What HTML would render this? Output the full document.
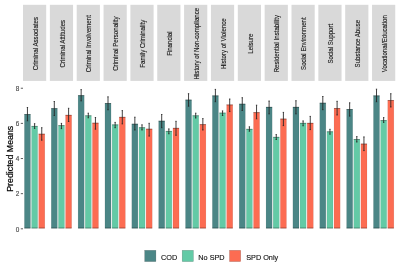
<!DOCTYPE html><html><head><meta charset="utf-8"><style>html,body{margin:0;padding:0;background:#fff;width:400px;height:264px;overflow:hidden}svg{display:block;filter:blur(0.3px)}text{font-family:"Liberation Sans",sans-serif}</style></head><body>
<svg width="400" height="264" viewBox="0 0 400 264">
<rect x="0" y="0" width="400" height="264" fill="#fff"/>
<rect x="23.00" y="4.8" width="23.2" height="76.10" fill="#D9D9D9"/>
<text x="0" y="0" transform="translate(37.70,43.65) scale(1,0.955) rotate(-90)" text-anchor="middle" font-size="6.4" fill="#1A1A1A" stroke="#1A1A1A" stroke-width="0.12">Criminal Associates</text>
<rect x="24.40" y="114.20" width="6.10" height="114.10" fill="#4B8686" stroke="rgba(0,0,0,0.12)" stroke-width="0.5"/>
<path d="M24.40 114.50h6.10M24.40 227.95h6.10" stroke="rgba(0,0,0,0.42)" stroke-width="0.7"/>
<rect x="31.55" y="126.10" width="6.10" height="102.20" fill="#63CAA6" stroke="rgba(0,0,0,0.12)" stroke-width="0.5"/>
<path d="M31.55 126.40h6.10M31.55 227.95h6.10" stroke="rgba(0,0,0,0.42)" stroke-width="0.7"/>
<rect x="38.70" y="133.90" width="6.10" height="94.40" fill="#FC6C52" stroke="rgba(0,0,0,0.12)" stroke-width="0.5"/>
<path d="M38.70 134.20h6.10M38.70 227.95h6.10" stroke="rgba(0,0,0,0.42)" stroke-width="0.7"/>
<path d="M27.45 107.50V120.80M26.80 107.50H28.10M26.80 120.80H28.10" stroke="#222" stroke-width="0.85" fill="none"/>
<path d="M34.60 123.70V128.40M33.95 123.70H35.25M33.95 128.40H35.25" stroke="#222" stroke-width="0.85" fill="none"/>
<path d="M41.75 127.70V140.20M41.10 127.70H42.40M41.10 140.20H42.40" stroke="#222" stroke-width="0.85" fill="none"/>
<rect x="49.85" y="4.8" width="23.2" height="76.10" fill="#D9D9D9"/>
<text x="0" y="0" transform="translate(64.55,43.65) scale(1,0.955) rotate(-90)" text-anchor="middle" font-size="6.4" fill="#1A1A1A" stroke="#1A1A1A" stroke-width="0.12">Criminal Attitudes</text>
<rect x="51.25" y="108.30" width="6.10" height="120.00" fill="#4B8686" stroke="rgba(0,0,0,0.12)" stroke-width="0.5"/>
<path d="M51.25 108.60h6.10M51.25 227.95h6.10" stroke="rgba(0,0,0,0.42)" stroke-width="0.7"/>
<rect x="58.40" y="125.30" width="6.10" height="103.00" fill="#63CAA6" stroke="rgba(0,0,0,0.12)" stroke-width="0.5"/>
<path d="M58.40 125.60h6.10M58.40 227.95h6.10" stroke="rgba(0,0,0,0.42)" stroke-width="0.7"/>
<rect x="65.55" y="115.00" width="6.10" height="113.30" fill="#FC6C52" stroke="rgba(0,0,0,0.12)" stroke-width="0.5"/>
<path d="M65.55 115.30h6.10M65.55 227.95h6.10" stroke="rgba(0,0,0,0.42)" stroke-width="0.7"/>
<path d="M54.30 101.50V115.50M53.65 101.50H54.95M53.65 115.50H54.95" stroke="#222" stroke-width="0.85" fill="none"/>
<path d="M61.45 123.40V128.60M60.80 123.40H62.10M60.80 128.60H62.10" stroke="#222" stroke-width="0.85" fill="none"/>
<path d="M68.60 108.30V121.50M67.95 108.30H69.25M67.95 121.50H69.25" stroke="#222" stroke-width="0.85" fill="none"/>
<rect x="76.70" y="4.8" width="23.2" height="76.10" fill="#D9D9D9"/>
<text x="0" y="0" transform="translate(91.40,43.65) scale(1,0.955) rotate(-90)" text-anchor="middle" font-size="6.4" fill="#1A1A1A" stroke="#1A1A1A" stroke-width="0.12">Criminal Involvement</text>
<rect x="78.10" y="95.30" width="6.10" height="133.00" fill="#4B8686" stroke="rgba(0,0,0,0.12)" stroke-width="0.5"/>
<path d="M78.10 95.60h6.10M78.10 227.95h6.10" stroke="rgba(0,0,0,0.42)" stroke-width="0.7"/>
<rect x="85.25" y="115.50" width="6.10" height="112.80" fill="#63CAA6" stroke="rgba(0,0,0,0.12)" stroke-width="0.5"/>
<path d="M85.25 115.80h6.10M85.25 227.95h6.10" stroke="rgba(0,0,0,0.42)" stroke-width="0.7"/>
<rect x="92.40" y="122.90" width="6.10" height="105.40" fill="#FC6C52" stroke="rgba(0,0,0,0.12)" stroke-width="0.5"/>
<path d="M92.40 123.20h6.10M92.40 227.95h6.10" stroke="rgba(0,0,0,0.42)" stroke-width="0.7"/>
<path d="M81.15 89.60V100.90M80.50 89.60H81.80M80.50 100.90H81.80" stroke="#222" stroke-width="0.85" fill="none"/>
<path d="M88.30 113.20V117.80M87.65 113.20H88.95M87.65 117.80H88.95" stroke="#222" stroke-width="0.85" fill="none"/>
<path d="M95.45 117.50V129.20M94.80 117.50H96.10M94.80 129.20H96.10" stroke="#222" stroke-width="0.85" fill="none"/>
<rect x="103.55" y="4.8" width="23.2" height="76.10" fill="#D9D9D9"/>
<text x="0" y="0" transform="translate(118.25,43.65) scale(1,0.955) rotate(-90)" text-anchor="middle" font-size="6.4" fill="#1A1A1A" stroke="#1A1A1A" stroke-width="0.12">Criminal Personality</text>
<rect x="104.95" y="103.20" width="6.10" height="125.10" fill="#4B8686" stroke="rgba(0,0,0,0.12)" stroke-width="0.5"/>
<path d="M104.95 103.50h6.10M104.95 227.95h6.10" stroke="rgba(0,0,0,0.42)" stroke-width="0.7"/>
<rect x="112.10" y="124.60" width="6.10" height="103.70" fill="#63CAA6" stroke="rgba(0,0,0,0.12)" stroke-width="0.5"/>
<path d="M112.10 124.90h6.10M112.10 227.95h6.10" stroke="rgba(0,0,0,0.42)" stroke-width="0.7"/>
<rect x="119.25" y="117.00" width="6.10" height="111.30" fill="#FC6C52" stroke="rgba(0,0,0,0.12)" stroke-width="0.5"/>
<path d="M119.25 117.30h6.10M119.25 227.95h6.10" stroke="rgba(0,0,0,0.42)" stroke-width="0.7"/>
<path d="M108.00 96.80V109.80M107.35 96.80H108.65M107.35 109.80H108.65" stroke="#222" stroke-width="0.85" fill="none"/>
<path d="M115.15 122.40V127.70M114.50 122.40H115.80M114.50 127.70H115.80" stroke="#222" stroke-width="0.85" fill="none"/>
<path d="M122.30 110.60V123.90M121.65 110.60H122.95M121.65 123.90H122.95" stroke="#222" stroke-width="0.85" fill="none"/>
<rect x="130.40" y="4.8" width="23.2" height="76.10" fill="#D9D9D9"/>
<text x="0" y="0" transform="translate(145.10,43.65) scale(1,0.955) rotate(-90)" text-anchor="middle" font-size="6.4" fill="#1A1A1A" stroke="#1A1A1A" stroke-width="0.12">Family Criminality</text>
<rect x="131.80" y="123.90" width="6.10" height="104.40" fill="#4B8686" stroke="rgba(0,0,0,0.12)" stroke-width="0.5"/>
<path d="M131.80 124.20h6.10M131.80 227.95h6.10" stroke="rgba(0,0,0,0.42)" stroke-width="0.7"/>
<rect x="138.95" y="127.40" width="6.10" height="100.90" fill="#63CAA6" stroke="rgba(0,0,0,0.12)" stroke-width="0.5"/>
<path d="M138.95 127.70h6.10M138.95 227.95h6.10" stroke="rgba(0,0,0,0.42)" stroke-width="0.7"/>
<rect x="146.10" y="128.90" width="6.10" height="99.40" fill="#FC6C52" stroke="rgba(0,0,0,0.12)" stroke-width="0.5"/>
<path d="M146.10 129.20h6.10M146.10 227.95h6.10" stroke="rgba(0,0,0,0.42)" stroke-width="0.7"/>
<path d="M134.85 117.20V130.00M134.20 117.20H135.50M134.20 130.00H135.50" stroke="#222" stroke-width="0.85" fill="none"/>
<path d="M142.00 124.80V130.00M141.35 124.80H142.65M141.35 130.00H142.65" stroke="#222" stroke-width="0.85" fill="none"/>
<path d="M149.15 123.30V136.10M148.50 123.30H149.80M148.50 136.10H149.80" stroke="#222" stroke-width="0.85" fill="none"/>
<rect x="157.25" y="4.8" width="23.2" height="76.10" fill="#D9D9D9"/>
<text x="0" y="0" transform="translate(171.95,43.65) scale(1,0.955) rotate(-90)" text-anchor="middle" font-size="6.4" fill="#1A1A1A" stroke="#1A1A1A" stroke-width="0.12">Financial</text>
<rect x="158.65" y="120.90" width="6.10" height="107.40" fill="#4B8686" stroke="rgba(0,0,0,0.12)" stroke-width="0.5"/>
<path d="M158.65 121.20h6.10M158.65 227.95h6.10" stroke="rgba(0,0,0,0.42)" stroke-width="0.7"/>
<rect x="165.80" y="131.10" width="6.10" height="97.20" fill="#63CAA6" stroke="rgba(0,0,0,0.12)" stroke-width="0.5"/>
<path d="M165.80 131.40h6.10M165.80 227.95h6.10" stroke="rgba(0,0,0,0.42)" stroke-width="0.7"/>
<rect x="172.95" y="128.00" width="6.10" height="100.30" fill="#FC6C52" stroke="rgba(0,0,0,0.12)" stroke-width="0.5"/>
<path d="M172.95 128.30h6.10M172.95 227.95h6.10" stroke="rgba(0,0,0,0.42)" stroke-width="0.7"/>
<path d="M161.70 114.50V127.70M161.05 114.50H162.35M161.05 127.70H162.35" stroke="#222" stroke-width="0.85" fill="none"/>
<path d="M168.85 128.90V133.80M168.20 128.90H169.50M168.20 133.80H169.50" stroke="#222" stroke-width="0.85" fill="none"/>
<path d="M176.00 121.30V135.30M175.35 121.30H176.65M175.35 135.30H176.65" stroke="#222" stroke-width="0.85" fill="none"/>
<rect x="184.10" y="4.8" width="23.2" height="76.10" fill="#D9D9D9"/>
<text x="0" y="0" transform="translate(198.80,43.65) scale(1,0.955) rotate(-90)" text-anchor="middle" font-size="6.4" fill="#1A1A1A" stroke="#1A1A1A" stroke-width="0.12">History of Non-compliance</text>
<rect x="185.50" y="99.80" width="6.10" height="128.50" fill="#4B8686" stroke="rgba(0,0,0,0.12)" stroke-width="0.5"/>
<path d="M185.50 100.10h6.10M185.50 227.95h6.10" stroke="rgba(0,0,0,0.42)" stroke-width="0.7"/>
<rect x="192.65" y="115.50" width="6.10" height="112.80" fill="#63CAA6" stroke="rgba(0,0,0,0.12)" stroke-width="0.5"/>
<path d="M192.65 115.80h6.10M192.65 227.95h6.10" stroke="rgba(0,0,0,0.42)" stroke-width="0.7"/>
<rect x="199.80" y="124.30" width="6.10" height="104.00" fill="#FC6C52" stroke="rgba(0,0,0,0.12)" stroke-width="0.5"/>
<path d="M199.80 124.60h6.10M199.80 227.95h6.10" stroke="rgba(0,0,0,0.42)" stroke-width="0.7"/>
<path d="M188.55 93.70V106.20M187.90 93.70H189.20M187.90 106.20H189.20" stroke="#222" stroke-width="0.85" fill="none"/>
<path d="M195.70 113.20V118.00M195.05 113.20H196.35M195.05 118.00H196.35" stroke="#222" stroke-width="0.85" fill="none"/>
<path d="M202.85 118.60V130.00M202.20 118.60H203.50M202.20 130.00H203.50" stroke="#222" stroke-width="0.85" fill="none"/>
<rect x="210.95" y="4.8" width="23.2" height="76.10" fill="#D9D9D9"/>
<text x="0" y="0" transform="translate(225.65,43.65) scale(1,0.955) rotate(-90)" text-anchor="middle" font-size="6.4" fill="#1A1A1A" stroke="#1A1A1A" stroke-width="0.12">History of Violence</text>
<rect x="212.35" y="95.60" width="6.10" height="132.70" fill="#4B8686" stroke="rgba(0,0,0,0.12)" stroke-width="0.5"/>
<path d="M212.35 95.90h6.10M212.35 227.95h6.10" stroke="rgba(0,0,0,0.42)" stroke-width="0.7"/>
<rect x="219.50" y="112.80" width="6.10" height="115.50" fill="#63CAA6" stroke="rgba(0,0,0,0.12)" stroke-width="0.5"/>
<path d="M219.50 113.10h6.10M219.50 227.95h6.10" stroke="rgba(0,0,0,0.42)" stroke-width="0.7"/>
<rect x="226.65" y="104.70" width="6.10" height="123.60" fill="#FC6C52" stroke="rgba(0,0,0,0.12)" stroke-width="0.5"/>
<path d="M226.65 105.00h6.10M226.65 227.95h6.10" stroke="rgba(0,0,0,0.42)" stroke-width="0.7"/>
<path d="M215.40 89.40V101.70M214.75 89.40H216.05M214.75 101.70H216.05" stroke="#222" stroke-width="0.85" fill="none"/>
<path d="M222.55 110.90V115.50M221.90 110.90H223.20M221.90 115.50H223.20" stroke="#222" stroke-width="0.85" fill="none"/>
<path d="M229.70 99.00V111.60M229.05 99.00H230.35M229.05 111.60H230.35" stroke="#222" stroke-width="0.85" fill="none"/>
<rect x="237.80" y="4.8" width="23.2" height="76.10" fill="#D9D9D9"/>
<text x="0" y="0" transform="translate(252.50,43.65) scale(1,0.955) rotate(-90)" text-anchor="middle" font-size="6.4" fill="#1A1A1A" stroke="#1A1A1A" stroke-width="0.12">Leisure</text>
<rect x="239.20" y="103.90" width="6.10" height="124.40" fill="#4B8686" stroke="rgba(0,0,0,0.12)" stroke-width="0.5"/>
<path d="M239.20 104.20h6.10M239.20 227.95h6.10" stroke="rgba(0,0,0,0.42)" stroke-width="0.7"/>
<rect x="246.35" y="129.00" width="6.10" height="99.30" fill="#63CAA6" stroke="rgba(0,0,0,0.12)" stroke-width="0.5"/>
<path d="M246.35 129.30h6.10M246.35 227.95h6.10" stroke="rgba(0,0,0,0.42)" stroke-width="0.7"/>
<rect x="253.50" y="112.30" width="6.10" height="116.00" fill="#FC6C52" stroke="rgba(0,0,0,0.12)" stroke-width="0.5"/>
<path d="M253.50 112.60h6.10M253.50 227.95h6.10" stroke="rgba(0,0,0,0.42)" stroke-width="0.7"/>
<path d="M242.25 97.70V110.50M241.60 97.70H242.90M241.60 110.50H242.90" stroke="#222" stroke-width="0.85" fill="none"/>
<path d="M249.40 126.80V131.20M248.75 126.80H250.05M248.75 131.20H250.05" stroke="#222" stroke-width="0.85" fill="none"/>
<path d="M256.55 105.20V118.80M255.90 105.20H257.20M255.90 118.80H257.20" stroke="#222" stroke-width="0.85" fill="none"/>
<rect x="264.65" y="4.8" width="23.2" height="76.10" fill="#D9D9D9"/>
<text x="0" y="0" transform="translate(279.35,43.65) scale(1,0.955) rotate(-90)" text-anchor="middle" font-size="6.4" fill="#1A1A1A" stroke="#1A1A1A" stroke-width="0.12">Residential Instability</text>
<rect x="266.05" y="107.00" width="6.10" height="121.30" fill="#4B8686" stroke="rgba(0,0,0,0.12)" stroke-width="0.5"/>
<path d="M266.05 107.30h6.10M266.05 227.95h6.10" stroke="rgba(0,0,0,0.42)" stroke-width="0.7"/>
<rect x="273.20" y="137.00" width="6.10" height="91.30" fill="#63CAA6" stroke="rgba(0,0,0,0.12)" stroke-width="0.5"/>
<path d="M273.20 137.30h6.10M273.20 227.95h6.10" stroke="rgba(0,0,0,0.42)" stroke-width="0.7"/>
<rect x="280.35" y="118.80" width="6.10" height="109.50" fill="#FC6C52" stroke="rgba(0,0,0,0.12)" stroke-width="0.5"/>
<path d="M280.35 119.10h6.10M280.35 227.95h6.10" stroke="rgba(0,0,0,0.42)" stroke-width="0.7"/>
<path d="M269.10 101.00V113.90M268.45 101.00H269.75M268.45 113.90H269.75" stroke="#222" stroke-width="0.85" fill="none"/>
<path d="M276.25 134.60V139.50M275.60 134.60H276.90M275.60 139.50H276.90" stroke="#222" stroke-width="0.85" fill="none"/>
<path d="M283.40 112.40V125.60M282.75 112.40H284.05M282.75 125.60H284.05" stroke="#222" stroke-width="0.85" fill="none"/>
<rect x="291.50" y="4.8" width="23.2" height="76.10" fill="#D9D9D9"/>
<text x="0" y="0" transform="translate(306.20,43.65) scale(1,0.955) rotate(-90)" text-anchor="middle" font-size="6.4" fill="#1A1A1A" stroke="#1A1A1A" stroke-width="0.12">Social Environment</text>
<rect x="292.90" y="107.00" width="6.10" height="121.30" fill="#4B8686" stroke="rgba(0,0,0,0.12)" stroke-width="0.5"/>
<path d="M292.90 107.30h6.10M292.90 227.95h6.10" stroke="rgba(0,0,0,0.42)" stroke-width="0.7"/>
<rect x="300.05" y="123.00" width="6.10" height="105.30" fill="#63CAA6" stroke="rgba(0,0,0,0.12)" stroke-width="0.5"/>
<path d="M300.05 123.30h6.10M300.05 227.95h6.10" stroke="rgba(0,0,0,0.42)" stroke-width="0.7"/>
<rect x="307.20" y="123.00" width="6.10" height="105.30" fill="#FC6C52" stroke="rgba(0,0,0,0.12)" stroke-width="0.5"/>
<path d="M307.20 123.30h6.10M307.20 227.95h6.10" stroke="rgba(0,0,0,0.42)" stroke-width="0.7"/>
<path d="M295.95 100.70V113.90M295.30 100.70H296.60M295.30 113.90H296.60" stroke="#222" stroke-width="0.85" fill="none"/>
<path d="M303.10 120.90V125.80M302.45 120.90H303.75M302.45 125.80H303.75" stroke="#222" stroke-width="0.85" fill="none"/>
<path d="M310.25 116.40V129.60M309.60 116.40H310.90M309.60 129.60H310.90" stroke="#222" stroke-width="0.85" fill="none"/>
<rect x="318.35" y="4.8" width="23.2" height="76.10" fill="#D9D9D9"/>
<text x="0" y="0" transform="translate(333.05,43.65) scale(1,0.955) rotate(-90)" text-anchor="middle" font-size="6.4" fill="#1A1A1A" stroke="#1A1A1A" stroke-width="0.12">Social Support</text>
<rect x="319.75" y="102.90" width="6.10" height="125.40" fill="#4B8686" stroke="rgba(0,0,0,0.12)" stroke-width="0.5"/>
<path d="M319.75 103.20h6.10M319.75 227.95h6.10" stroke="rgba(0,0,0,0.42)" stroke-width="0.7"/>
<rect x="326.90" y="131.50" width="6.10" height="96.80" fill="#63CAA6" stroke="rgba(0,0,0,0.12)" stroke-width="0.5"/>
<path d="M326.90 131.80h6.10M326.90 227.95h6.10" stroke="rgba(0,0,0,0.42)" stroke-width="0.7"/>
<rect x="334.05" y="108.20" width="6.10" height="120.10" fill="#FC6C52" stroke="rgba(0,0,0,0.12)" stroke-width="0.5"/>
<path d="M334.05 108.50h6.10M334.05 227.95h6.10" stroke="rgba(0,0,0,0.42)" stroke-width="0.7"/>
<path d="M322.80 96.50V109.70M322.15 96.50H323.45M322.15 109.70H323.45" stroke="#222" stroke-width="0.85" fill="none"/>
<path d="M329.95 129.30V134.20M329.30 129.30H330.60M329.30 134.20H330.60" stroke="#222" stroke-width="0.85" fill="none"/>
<path d="M337.10 101.30V115.00M336.45 101.30H337.75M336.45 115.00H337.75" stroke="#222" stroke-width="0.85" fill="none"/>
<rect x="345.20" y="4.8" width="23.2" height="76.10" fill="#D9D9D9"/>
<text x="0" y="0" transform="translate(359.90,43.65) scale(1,0.955) rotate(-90)" text-anchor="middle" font-size="6.4" fill="#1A1A1A" stroke="#1A1A1A" stroke-width="0.12">Substance Abuse</text>
<rect x="346.60" y="109.20" width="6.10" height="119.10" fill="#4B8686" stroke="rgba(0,0,0,0.12)" stroke-width="0.5"/>
<path d="M346.60 109.50h6.10M346.60 227.95h6.10" stroke="rgba(0,0,0,0.42)" stroke-width="0.7"/>
<rect x="353.75" y="139.20" width="6.10" height="89.10" fill="#63CAA6" stroke="rgba(0,0,0,0.12)" stroke-width="0.5"/>
<path d="M353.75 139.50h6.10M353.75 227.95h6.10" stroke="rgba(0,0,0,0.42)" stroke-width="0.7"/>
<rect x="360.90" y="143.80" width="6.10" height="84.50" fill="#FC6C52" stroke="rgba(0,0,0,0.12)" stroke-width="0.5"/>
<path d="M360.90 144.10h6.10M360.90 227.95h6.10" stroke="rgba(0,0,0,0.42)" stroke-width="0.7"/>
<path d="M349.65 102.80V116.10M349.00 102.80H350.30M349.00 116.10H350.30" stroke="#222" stroke-width="0.85" fill="none"/>
<path d="M356.80 136.60V142.00M356.15 136.60H357.45M356.15 142.00H357.45" stroke="#222" stroke-width="0.85" fill="none"/>
<path d="M363.95 136.90V150.60M363.30 136.90H364.60M363.30 150.60H364.60" stroke="#222" stroke-width="0.85" fill="none"/>
<rect x="372.05" y="4.8" width="23.2" height="76.10" fill="#D9D9D9"/>
<text x="0" y="0" transform="translate(386.75,43.65) scale(1,0.955) rotate(-90)" text-anchor="middle" font-size="6.4" fill="#1A1A1A" stroke="#1A1A1A" stroke-width="0.12">Vocational/Education</text>
<rect x="373.45" y="95.60" width="6.10" height="132.70" fill="#4B8686" stroke="rgba(0,0,0,0.12)" stroke-width="0.5"/>
<path d="M373.45 95.90h6.10M373.45 227.95h6.10" stroke="rgba(0,0,0,0.42)" stroke-width="0.7"/>
<rect x="380.60" y="120.25" width="6.10" height="108.05" fill="#63CAA6" stroke="rgba(0,0,0,0.12)" stroke-width="0.5"/>
<path d="M380.60 120.55h6.10M380.60 227.95h6.10" stroke="rgba(0,0,0,0.42)" stroke-width="0.7"/>
<rect x="387.75" y="100.20" width="6.10" height="128.10" fill="#FC6C52" stroke="rgba(0,0,0,0.12)" stroke-width="0.5"/>
<path d="M387.75 100.50h6.10M387.75 227.95h6.10" stroke="rgba(0,0,0,0.42)" stroke-width="0.7"/>
<path d="M376.50 89.20V101.70M375.85 89.20H377.15M375.85 101.70H377.15" stroke="#222" stroke-width="0.85" fill="none"/>
<path d="M383.65 117.60V122.40M383.00 117.60H384.30M383.00 122.40H384.30" stroke="#222" stroke-width="0.85" fill="none"/>
<path d="M390.80 93.70V107.00M390.15 93.70H391.45M390.15 107.00H391.45" stroke="#222" stroke-width="0.85" fill="none"/>
<text x="0" y="0" transform="translate(19.2,231.55) scale(1,1.2)" text-anchor="end" font-size="6.4" fill="#4D4D4D" stroke="#4D4D4D" stroke-width="0.15">0</text>
<line x1="20.8" y1="228.80" x2="23" y2="228.80" stroke="#333" stroke-width="0.8"/>
<text x="0" y="0" transform="translate(19.2,196.41) scale(1,1.2)" text-anchor="end" font-size="6.4" fill="#4D4D4D" stroke="#4D4D4D" stroke-width="0.15">2</text>
<line x1="20.8" y1="193.66" x2="23" y2="193.66" stroke="#333" stroke-width="0.8"/>
<text x="0" y="0" transform="translate(19.2,161.27) scale(1,1.2)" text-anchor="end" font-size="6.4" fill="#4D4D4D" stroke="#4D4D4D" stroke-width="0.15">4</text>
<line x1="20.8" y1="158.52" x2="23" y2="158.52" stroke="#333" stroke-width="0.8"/>
<text x="0" y="0" transform="translate(19.2,126.13) scale(1,1.2)" text-anchor="end" font-size="6.4" fill="#4D4D4D" stroke="#4D4D4D" stroke-width="0.15">6</text>
<line x1="20.8" y1="123.38" x2="23" y2="123.38" stroke="#333" stroke-width="0.8"/>
<text x="0" y="0" transform="translate(19.2,90.99) scale(1,1.2)" text-anchor="end" font-size="6.4" fill="#4D4D4D" stroke="#4D4D4D" stroke-width="0.15">8</text>
<line x1="20.8" y1="88.24" x2="23" y2="88.24" stroke="#333" stroke-width="0.8"/>
<text x="0" y="0" transform="translate(12.7,158.8) rotate(-90)" text-anchor="middle" font-size="8.8" stroke="#000" stroke-width="0.2" fill="#000">Predicted Means</text>
<rect x="144.7" y="250.3" width="11.2" height="11.3" fill="#4B8686" stroke="rgba(40,40,40,0.35)" stroke-width="0.5"/>
<text x="0" y="0" transform="translate(161.1,260.1) scale(1,1.1)" font-size="7.3" fill="#111" stroke="#111" stroke-width="0.12">COD</text>
<rect x="182.2" y="250.3" width="11.2" height="11.3" fill="#63CAA6" stroke="rgba(40,40,40,0.35)" stroke-width="0.5"/>
<text x="0" y="0" transform="translate(198.3,260.1) scale(1,1.1)" font-size="7.3" fill="#111" stroke="#111" stroke-width="0.12">No SPD</text>
<rect x="229.5" y="250.3" width="11.2" height="11.3" fill="#FC6C52" stroke="rgba(40,40,40,0.35)" stroke-width="0.5"/>
<text x="0" y="0" transform="translate(246.2,260.1) scale(1,1.1)" font-size="7.3" fill="#111" stroke="#111" stroke-width="0.12">SPD Only</text>
</svg></body></html>
